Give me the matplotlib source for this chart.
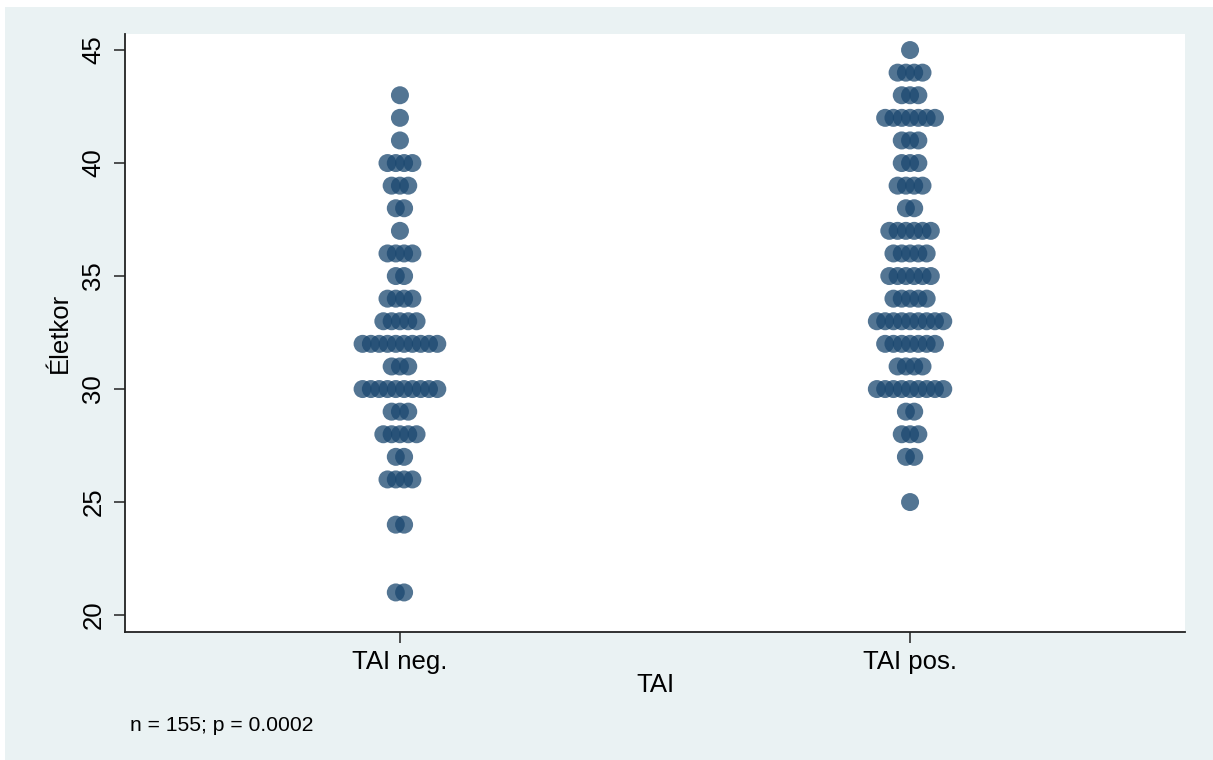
import numpy as np
import matplotlib
matplotlib.use('Agg')
import matplotlib.pyplot as plt
from matplotlib.patches import Rectangle

# Dot plot of age (Életkor) by TAI group; counts of subjects per age
groups = ['TAI neg.', 'TAI pos.']
neg_ages   = [43, 42, 41, 40, 39, 38, 37, 36, 35, 34, 33, 32, 31, 30, 29, 28, 27, 26, 24, 21]
neg_counts = [1, 1, 1, 4, 3, 2, 1, 4, 2, 4, 5, 10, 3, 10, 3, 5, 2, 4, 2, 2]
pos_ages   = [45, 44, 43, 42, 41, 40, 39, 38, 37, 36, 35, 34, 33, 32, 31, 30, 29, 28, 27, 25]
pos_counts = [1, 4, 3, 7, 3, 3, 4, 2, 6, 5, 6, 5, 9, 7, 4, 9, 2, 3, 2, 1]
yticks = [20, 25, 30, 35, 40, 45]
note = 'n = 155; p = 0.0002'

BG = '#EAF2F3'
DOT = '#1a476f'
FONT = ['Liberation Sans', 'DejaVu Sans']
plt.rcParams['font.family'] = FONT
FS = 18.5

W, H = 1213, 760
fig = plt.figure(figsize=(W / 100, H / 100), dpi=100, facecolor='white')
fig.patches.append(Rectangle((5 / W, 0), 1, 1 - 7 / H, transform=fig.transFigure,
                             facecolor=BG, edgecolor='none', zorder=-10))

ax = fig.add_axes([125 / W, 1 - 632 / H, 1060 / W, 598 / H])
ax.set_facecolor('white')

xmin, xmax = -0.539, 1.539
step = 8.3 / 510  # horizontal gap between stacked dots (data units)
for gi, (ages, counts) in enumerate([(neg_ages, neg_counts), (pos_ages, pos_counts)]):
    xs, ys = [], []
    for a, n in zip(ages, counts):
        for i in range(n):
            xs.append(gi + (i - (n - 1) / 2) * step)
            ys.append(a)
    ax.scatter(xs, ys, s=168, color=DOT, alpha=0.75, edgecolors='none', zorder=3)

ax.set_xlim(xmin, xmax)
ax.set_ylim(19.25, 45.71)
ax.set_xticks([0, 1])
ax.set_xticklabels(groups)
ax.set_yticks(yticks)
ax.set_yticklabels([str(t) for t in yticks], rotation=90, va='center')

for s in ['top', 'right']:
    ax.spines[s].set_visible(False)
for s in ['left', 'bottom']:
    ax.spines[s].set_linewidth(1.3)
    ax.spines[s].set_color('#222222')
ax.tick_params(axis='both', length=8.2, width=1.1, color='#222222', labelsize=FS)
ax.tick_params(axis='y', pad=6)
ax.tick_params(axis='x', pad=5)

ax.set_ylabel('Életkor', fontsize=FS)
ax.yaxis.set_label_coords(-0.050, 0.5)
ax.set_xlabel('TAI', fontsize=FS)
ax.xaxis.set_label_coords(0.5, -0.0686)

fig.text(130 / W, 1 - 731 / H, note, fontsize=15.2, ha='left', va='baseline')

fig.savefig('out.png', dpi=100, facecolor=fig.get_facecolor())
